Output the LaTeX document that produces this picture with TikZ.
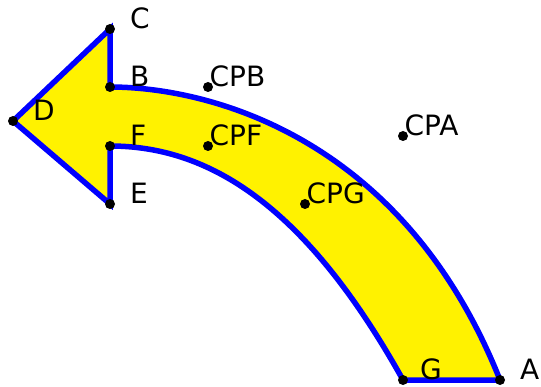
\documentclass[tikz,border=0pt]{standalone}
\usepackage{fontspec}
\setmainfont{DejaVu Sans}
\usepackage{xcolor}
\usepackage{tikz}
\usetikzlibrary{positioning,calc}

\begin{document}
\begin{tikzpicture}[
    x=1pt, y=-1pt,
    font=\fontsize{28}{33}\selectfont,
    outline/.style={draw=blue, fill=yellow, line width=5.5pt},
    dot/.style={circle, fill=black, inner sep=0pt, minimum size=10pt},
    lbl/.style={anchor=base west, inner sep=0pt, xshift=20pt},
    cplbl/.style={anchor=base west, inner sep=0pt, xshift=1.5pt}
  ]
    \useasboundingbox (0,0) rectangle (541,387);
    % arrow corners and control points
    \coordinate (A) at (500,380);
    \coordinate (G) at (403,380);
    \coordinate (F) at (110,146);
    \coordinate (E) at (110,204);
    \coordinate (D) at (13,121);
    \coordinate (C) at (110,29);
    \coordinate (B) at (110,87);
    \coordinate (CPA) at (403,136);
    \coordinate (CPB) at (208,87);
    \coordinate (CPF) at (208,146);
    \coordinate (CPG) at (305,204);
    % the bent arrow
    \draw[outline] (A) -- (G) .. controls (CPG) and (CPF) .. (F) -- (E) -- (D)
      -- (C) -- (B) .. controls (CPB) and (CPA) .. (A) -- cycle;
    % points
    \node[dot] (dotA) at (A) {};
    \node[dot] (dotG) at (G) {};
    \node[dot] (dotF) at (F) {};
    \node[dot] (dotE) at (E) {};
    \node[dot] (dotD) at (D) {};
    \node[dot] (dotC) at (C) {};
    \node[dot] (dotB) at (B) {};
    \node[dot] (dotCPA) at (CPA) {};
    \node[dot] (dotCPB) at (CPB) {};
    \node[dot] (dotCPF) at (CPF) {};
    \node[dot] (dotCPG) at (CPG) {};
    % labels
    \node[lbl] (labA) at (A) {A};
    \node[lbl, xshift=-3pt] (labG) at (G) {G};
    \node[lbl] (labF) at (F) {F};
    \node[lbl] (labE) at (E) {E};
    \node[lbl] (labD) at (D) {D};
    \node[lbl] (labC) at (C) {C};
    \node[lbl] (labB) at (B) {B};
    \node[cplbl] (labCPA) at (CPA) {CPA};
    \node[cplbl] (labCPB) at (CPB) {CPB};
    \node[cplbl] (labCPF) at (CPF) {CPF};
    \node[cplbl] (labCPG) at (CPG) {CPG};
  \end{tikzpicture}
\end{document}
